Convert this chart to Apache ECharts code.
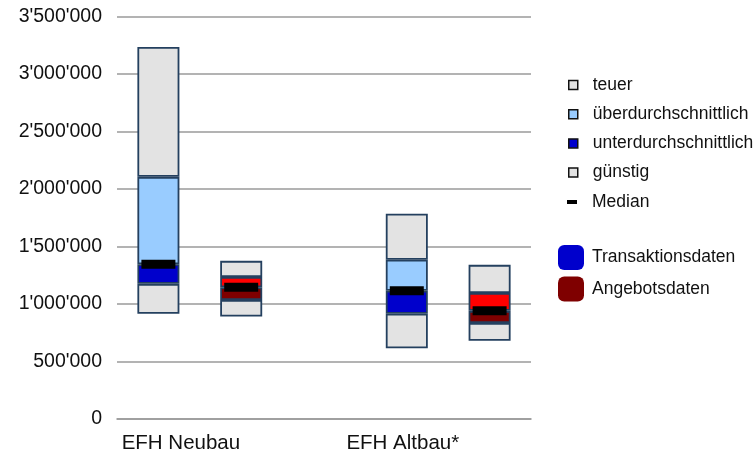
<!DOCTYPE html>
<html>
<head>
<meta charset="utf-8">
<script src="https://cdn.jsdelivr.net/npm/echarts@6/dist/echarts.min.js"></script>
<style>
  html, body { margin: 0; padding: 0; background: #ffffff; }
  #chart { width: 753px; height: 454px; }
</style>
</head>
<body>
<div id="chart"></div>
<script>
// Five category slots; the middle one stays empty to separate the two groups
const slotLabels = ['EFH Neubau', '', '', 'EFH Altbau*', ''];
const slotSource = ['Transaktionsdaten', 'Angebotsdaten', null, 'Transaktionsdaten', 'Angebotsdaten'];

// Price boundaries per slot (CHF)
const minimum       = [ 915000,  890000, null,  615000,  680000];
const lowerQuartile = [1175000, 1035000, null,  915000,  835000];
const median        = [1345000, 1145000, null, 1115000,  940000];
const upperQuartile = [2105000, 1235000, null, 1385000, 1095000];
const maximum       = [3235000, 1375000, null, 1785000, 1340000];

// Value axis range
const yMin = 0;
const yMax = 3500000;
const yStep = 500000;

const sourceColors = {
  Transaktionsdaten: { low: '#0000cc', high: '#99ccff', key: '#0000cc' },
  Angebotsdaten:     { low: '#7f0000', high: '#ff0000', key: '#7f0000' }
};
const grey = '#e3e3e3';
const edge = '#24405f';
const font = '"Liberation Sans", Arial, sans-serif';

const span = (top, bottom) => top.map((v, i) => (v == null ? '-' : v - bottom[i]));
const band = (top, bottom, shade) => span(top, bottom).map((v, i) =>
  slotSource[i] ? { value: v, itemStyle: { color: sourceColors[slotSource[i]][shade] } } : '-');

const withSeparators = v => String(v).replace(/\B(?=(\d{3})+(?!\d))/g, "'");

const barCommon = {
  type: 'bar',
  stack: 'range',
  barWidth: 42,
  emphasis: { disabled: true }
};
const segmentStyle = color => ({ color: color, borderColor: edge, borderWidth: 1.8, opacity: 1 });
const legendText = pad => ({
  rich: { t: { fontSize: 17.5, fontFamily: font, color: '#111111', lineHeight: 20, padding: [0, 0, 0, pad] } }
});

const chart = echarts.init(document.getElementById('chart'), null, { renderer: 'canvas' });
chart.setOption({
  animation: false,
  backgroundColor: '#ffffff',
  textStyle: { fontFamily: font },
  grid: { left: 117, right: 222, top: 16.4, bottom: 32.2, containLabel: false },
  xAxis: {
    type: 'category',
    data: slotLabels,
    axisLine: { show: true, lineStyle: { color: '#9a9a9a', width: 1.6 } },
    axisTick: { show: false },
    axisLabel: {
      interval: 0,
      margin: 14,
      color: '#111111',
      fontSize: 20.5,
      fontFamily: font,
      formatter: (v, i) => (i === 0 ? '{a|' + v + '}' : i === 3 ? '{b|' + v + '}' : v),
      rich: {
        a: { fontSize: 20.5, fontFamily: font, color: '#111111', padding: [0, 0, 0, 45] },
        b: { fontSize: 20.5, fontFamily: font, color: '#111111', padding: [0, 8, 0, 0] }
      }
    }
  },
  yAxis: {
    type: 'value',
    min: yMin,
    max: yMax,
    interval: yStep,
    axisLine: { show: false },
    axisTick: { show: false },
    splitLine: { show: true, lineStyle: { color: '#9a9a9a', width: 1.6 } },
    axisLabel: {
      margin: 15,
      color: '#111111',
      fontSize: 19.5,
      fontFamily: font,
      formatter: withSeparators
    }
  },
  legend: [
    {
      orient: 'vertical',
      left: 568,
      top: 76,
      padding: 0,
      itemGap: 11.2,
      itemWidth: 9,
      itemHeight: 9,
      icon: 'rect',
      selectedMode: false,
      itemStyle: { borderColor: '#111111', borderWidth: 1.5, opacity: 1 },
      data: ['teuer', 'überdurchschnittlich', 'unterdurchschnittlich', 'günstig'],
      formatter: n => '{t|' + n + '}',
      textStyle: {
        rich: { t: { fontSize: 17.5, fontFamily: font, color: '#111111', lineHeight: 20, padding: [0, 0, 0, 10] } }
      }
    },
    {
      orient: 'vertical',
      left: 567,
      top: 193,
      padding: 0,
      itemWidth: 10,
      itemHeight: 4,
      icon: 'rect',
      selectedMode: false,
      itemStyle: { opacity: 1 },
      data: ['Median'],
      formatter: n => '{t|' + n + '}',
      textStyle: legendText(10)
    },
    {
      orient: 'vertical',
      left: 558,
      top: 245,
      padding: 0,
      itemGap: 6.5,
      itemWidth: 26,
      itemHeight: 25,
      icon: 'roundRect',
      selectedMode: false,
      itemStyle: { opacity: 1 },
      data: ['Transaktionsdaten', 'Angebotsdaten'],
      formatter: n => '{t|' + n + '}',
      textStyle: legendText(3)
    }
  ],
  series: [
    Object.assign({}, barCommon, {
      name: 'Basis',
      silent: true,
      itemStyle: { color: 'rgba(0,0,0,0)', borderWidth: 0 },
      data: minimum.map(v => (v == null ? '-' : v))
    }),
    Object.assign({}, barCommon, {
      name: 'günstig',
      itemStyle: segmentStyle(grey),
      data: span(lowerQuartile, minimum)
    }),
    Object.assign({}, barCommon, {
      name: 'unterdurchschnittlich',
      itemStyle: segmentStyle('#0000cc'),
      data: band(median, lowerQuartile, 'low')
    }),
    Object.assign({}, barCommon, {
      name: 'überdurchschnittlich',
      itemStyle: segmentStyle('#99ccff'),
      data: band(upperQuartile, median, 'high')
    }),
    Object.assign({}, barCommon, {
      name: 'teuer',
      itemStyle: segmentStyle(grey),
      data: span(maximum, upperQuartile)
    }),
    {
      name: 'Median',
      type: 'scatter',
      z: 5,
      symbol: 'rect',
      symbolSize: [34, 9],
      itemStyle: { color: '#000000', opacity: 1 },
      emphasis: { disabled: true },
      data: median.map(v => (v == null ? '-' : v))
    },
    {
      name: 'Transaktionsdaten',
      type: 'scatter',
      itemStyle: { color: sourceColors.Transaktionsdaten.key, opacity: 1 },
      data: []
    },
    {
      name: 'Angebotsdaten',
      type: 'scatter',
      itemStyle: { color: sourceColors.Angebotsdaten.key, opacity: 1 },
      data: []
    }
  ]
});
</script>
</body>
</html>
